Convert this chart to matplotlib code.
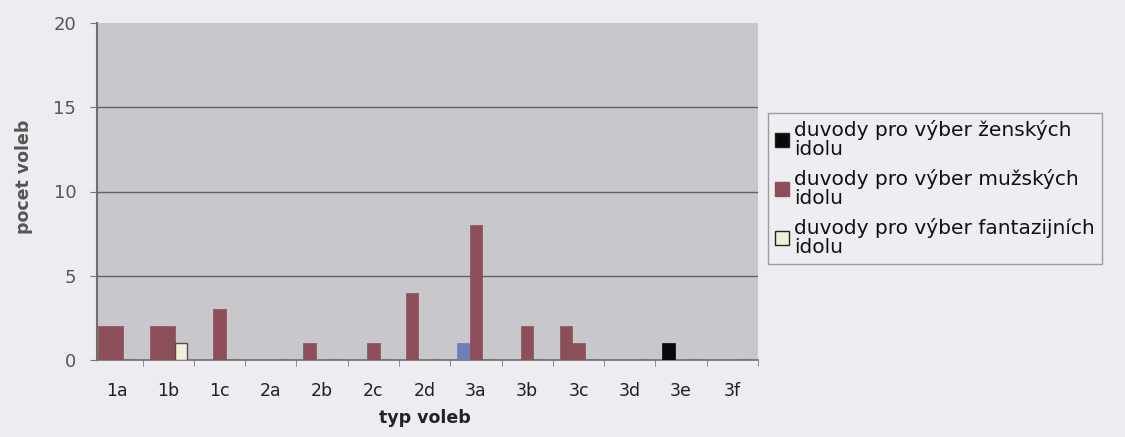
import matplotlib
matplotlib.use("Agg")
import matplotlib.pyplot as plt
import numpy as np
from matplotlib.patches import Patch

categories = ["1a", "1b", "1c", "2a", "2b", "2c", "2d", "3a", "3b", "3c", "3d", "3e", "3f"]
female = [2, 2, 0, 0, 1, 0, 4, 1, 0, 2, 0, 1, 0]
male = [2, 2, 3, 0, 0, 1, 0, 8, 2, 1, 0, 0, 0]
fantasy = [0, 1, 0, 0, 0, 0, 0, 0, 0, 0, 0, 0, 0]
yticks = [0, 5, 10, 15, 20]
labels = ["duvody pro výber ženských\nidolu",
          "duvody pro výber mužských\nidolu",
          "duvody pro výber fantazijních\nidolu"]

MAROON = "#8c4f5a"
female_colors = [MAROON] * len(categories)
female_colors[7] = "#6f7fb5"
female_colors[11] = "#080808"

plt.rcParams['font.family'] = ['DejaVu Sans']
fig = plt.figure(figsize=(11.25, 4.37), dpi=100, facecolor="#ededf1")
ax = fig.add_axes([97/1125, 1-360/437, (758-97)/1125, (360-23)/437])
ax.set_facecolor("#c8c8cc")

x = np.arange(len(categories))
w = 0.243
ax.bar(x - w, female, w, color=female_colors, edgecolor=female_colors, linewidth=0.5, zorder=3)
ax.bar(x, male, w, color=MAROON, edgecolor=MAROON, linewidth=0.5, zorder=3)
ax.bar(x + w, fantasy, w, color="#f1eedc", edgecolor="#5a4a4a", linewidth=1.0, zorder=3)

ax.set_xlim(-0.39, 12.48)
ax.set_ylim(0, 20)
ax.set_yticks(yticks)
ax.set_yticklabels([str(t) for t in yticks], fontsize=13, color="#555555")
ax.set_xticks(x)
ax.set_xticklabels(categories, fontsize=12.5, color="#222222")
ax.set_xticks(np.arange(len(categories)) + 0.5, minor=True)
ax.tick_params(axis='x', which='major', length=0, pad=16)
ax.tick_params(axis='x', which='minor', length=4, color="#777777", direction='out')
ax.tick_params(axis='y', length=5, color="#777777", direction='out', pad=10)

for yv in [5, 10, 15]:
    ax.axhline(yv, color="#6a5a5e", linewidth=1.0, zorder=1)

for s in ["top", "right"]:
    ax.spines[s].set_visible(False)
ax.spines["left"].set_color("#6e6e6e")
ax.spines["left"].set_linewidth(1.5)
ax.spines["bottom"].set_color("#6e6e6e")
ax.spines["bottom"].set_linewidth(1.2)

ax.set_xlabel("typ voleb", fontsize=12.5, fontweight="bold", color="#222222")
ax.xaxis.set_label_coords((425-97)/661, -(409-360)/337)
ax.set_ylabel("pocet voleb", fontsize=12.5, fontweight="bold", color="#555555")
ax.yaxis.set_label_coords((33-97)/661, (360-177)/337)

handles = [Patch(facecolor="#080808", edgecolor="#222222"),
           Patch(facecolor=MAROON, edgecolor=MAROON),
           Patch(facecolor="#f1eedc", edgecolor="#222222")]
leg = fig.legend(handles, labels, loc="upper left", bbox_to_anchor=(768/1125, 1-113/437),
                 fontsize=14.5, frameon=True, fancybox=False, handlelength=0.7, handleheight=0.7,
                 handletextpad=0.25, labelspacing=0.5, borderpad=0.35, borderaxespad=0)
leg.get_frame().set_facecolor("#efeff3")
leg.get_frame().set_edgecolor("#888888")
leg.get_frame().set_linewidth(1.0)
for t in leg.get_texts():
    t.set_color("#111111")
    t.set_linespacing(1.0)

fig.savefig("out.png", dpi=100, facecolor=fig.get_facecolor())
